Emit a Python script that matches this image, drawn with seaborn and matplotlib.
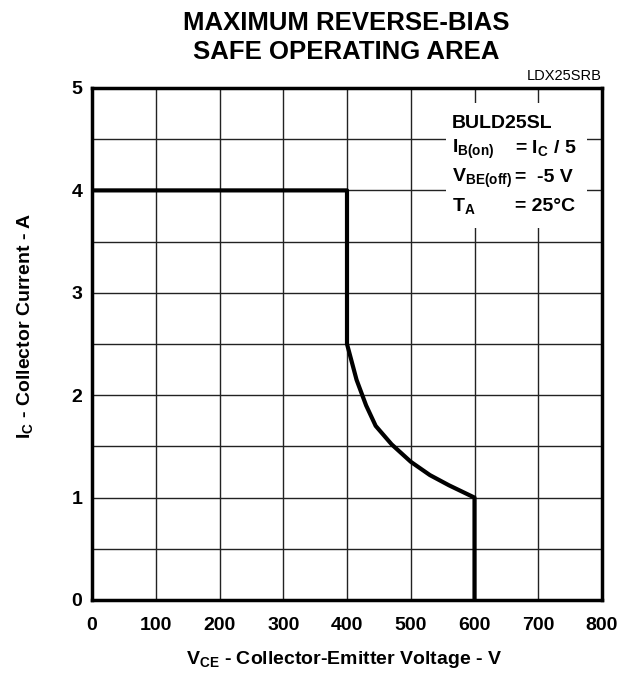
import numpy as np
import pandas as pd
import seaborn as sns
import matplotlib
matplotlib.use("Agg")
import matplotlib.pyplot as plt

# RBSOA boundary
vce = [0, 400, 400, 415, 430, 445, 470, 500, 530, 560, 600, 600]
ic = [4.0, 4.0, 2.5, 2.15, 1.9, 1.7, 1.52, 1.35, 1.22, 1.12, 1.0, 0.0]

x_ticks = [0, 100, 200, 300, 400, 500, 600, 700, 800]
y_ticks = [0, 1, 2, 3, 4, 5]

sns.set_theme(style="white")
plt.rcParams['font.family'] = ['Liberation Sans', 'DejaVu Sans']
plt.rcParams['font.weight'] = 'bold'
plt.rcParams['text.color'] = 'black'
plt.rcParams['axes.labelcolor'] = 'black'
plt.rcParams['xtick.color'] = 'black'
plt.rcParams['ytick.color'] = 'black'
plt.rcParams['mathtext.fontset'] = 'custom'
plt.rcParams['mathtext.rm'] = 'Liberation Sans:bold'
plt.rcParams['mathtext.it'] = 'Liberation Sans:bold'
plt.rcParams['mathtext.bf'] = 'Liberation Sans:bold'
plt.rcParams['mathtext.default'] = 'rm'

df = pd.DataFrame({"VCE": vce, "IC": ic})

fig = plt.figure(figsize=(6.28, 6.75), dpi=100)
ax = fig.add_axes([92 / 628, 1 - 600 / 675, 510 / 628, 512 / 675])

sns.lineplot(data=df, x="VCE", y="IC", sort=False, estimator=None, color="black",
             linewidth=3, ax=ax, zorder=5)

ax.set_xlim(0, 800)
ax.set_ylim(0, 5)
ax.set_xticks(x_ticks)
ax.set_yticks(y_ticks)
ax.set_yticks(np.arange(0.5, 5, 1.0), minor=True)
ax.grid(True, which="both", color="#222222", linewidth=1.0)
ax.tick_params(axis="both", which="both", length=0, labelsize=14, labelcolor="black")
ax.tick_params(axis="x", pad=12)
ax.tick_params(axis="y", pad=7)
for lab in ax.get_xticklabels() + ax.get_yticklabels():
    lab.set_fontweight("bold")
for s in ax.spines.values():
    s.set_color("black")
    s.set_linewidth(2.5)

ax.set_xlabel("V$_{CE}$ - Collector-Emitter Voltage - V", fontsize=14, fontweight="bold", color="black")
ax.set_ylabel("I$_{C}$ - Collector Current - A", fontsize=14, fontweight="bold", color="black")
ax.xaxis.set_label_coords(0.495, -0.096)
ax.yaxis.set_label_coords(-0.112, 0.535)

fig.text(0.551, 0.984, "MAXIMUM REVERSE-BIAS\nSAFE OPERATING AREA", ha="center", va="top",
         fontsize=18.5, fontweight="bold", linespacing=1.25, color="black")
ax.text(1.0, 1.01, "LDX25SRB", transform=ax.transAxes, ha="right", va="bottom",
        fontsize=10.5, fontweight="normal", color="black")

# legend box
ax.add_patch(plt.Rectangle((556, 3.63), 220, 1.22, facecolor="white", edgecolor="none", zorder=3))
ax.text(565, 4.61, "BULD25SL", fontsize=14, fontweight="bold", zorder=6)
ax.text(565, 4.365, "I$_{B(on)}$", fontsize=14, fontweight="bold", zorder=6)
ax.text(663, 4.365, "= I$_{C}$ / 5", fontsize=14, fontweight="bold", zorder=6)
ax.text(565, 4.08, "V$_{BE(off)}$", fontsize=14, fontweight="bold", zorder=6)
ax.text(663, 4.08, "=  -5 V", fontsize=14, fontweight="bold", zorder=6)
ax.text(565, 3.80, "T$_{A}$", fontsize=14, fontweight="bold", zorder=6)
ax.text(663, 3.80, "= 25°C", fontsize=14, fontweight="bold", zorder=6)

fig.savefig("out.png", dpi=100)
